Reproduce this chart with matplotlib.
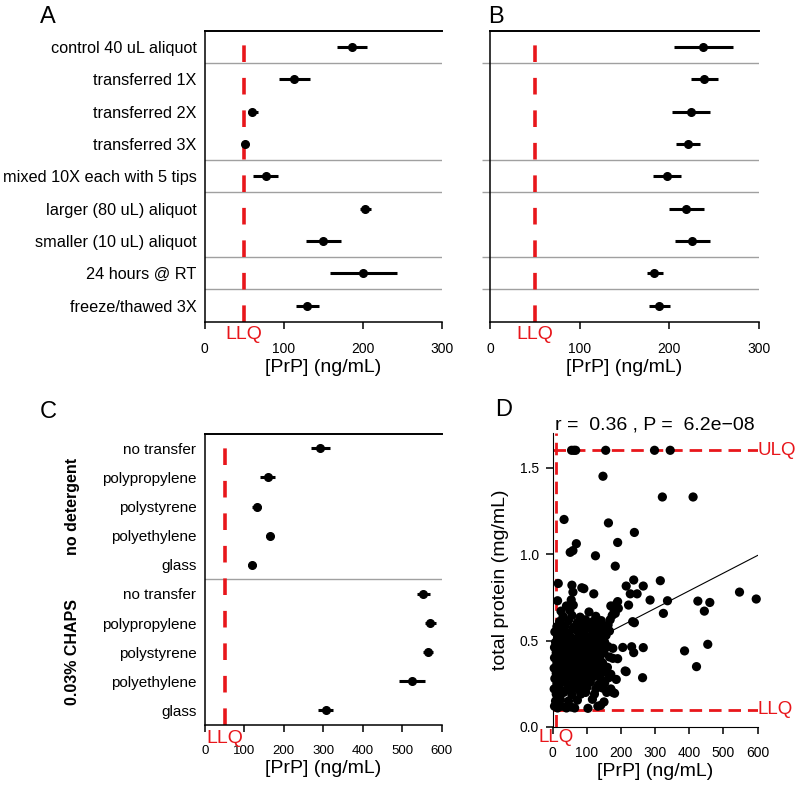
import numpy as np
import matplotlib.pyplot as plt

plt.rcParams['font.family'] = ['Liberation Sans', 'DejaVu Sans']

RED = '#E8161B'
LLQ_PRP = 50

# Panel A / B: sample handling
labels_ab = ['control 40 uL aliquot', 'transferred 1X', 'transferred 2X',
             'transferred 3X', 'mixed 10X each with 5 tips',
             'larger (80 uL) aliquot', 'smaller (10 uL) aliquot',
             '24 hours @ RT', 'freeze/thawed 3X']
a_mean = [186, 113, 60, 51, 77, 203, 150, 200, 130]
a_lo = [167, 94, 55, 51, 61, 197, 128, 158, 116]
a_hi = [206, 133, 67, 51, 93, 210, 172, 243, 145]
b_mean = [238, 239, 224, 221, 198, 219, 226, 183, 189]
b_lo = [205, 224, 203, 208, 182, 200, 206, 175, 178]
b_hi = [271, 255, 245, 234, 213, 239, 246, 193, 201]
ab_separators = [0.5, 3.5, 4.5, 6.5, 7.5]

# Panel C: tube material, with / without detergent
labels_c = ['no transfer', 'polypropylene', 'polystyrene', 'polyethylene', 'glass'] * 2
c_mean = [293, 159, 131, 164, 119, 552, 571, 566, 524, 306]
c_lo = [268, 140, 120, 156, 110, 537, 557, 553, 491, 287]
c_hi = [318, 177, 143, 171, 129, 570, 586, 579, 557, 325]
c_groups = ['no detergent', '0.03% CHAPS']

# Panel D: PrP vs total protein
prp_d = [55, 62, 67, 155, 298, 344, 147, 321, 411, 33, 163, 239, 190, 69, 59, 51,
         125, 183, 16, 56, 59, 85, 91, 120, 215, 237, 265, 247, 227, 315, 285, 336,
         324, 425, 460, 444, 547, 596, 222, 192, 183, 234, 239, 454, 386, 421, 265,
         205, 231, 237, 176, 263, 212,
         5, 14, 26, 40, 54, 64, 103, 132, 140,
         8, 22, 46, 72, 116, 150, 176,
         10, 32, 56, 82, 96, 122, 158, 181,
         4, 18, 42, 62, 76, 100, 126, 146, 170,
         12, 28, 48, 68, 88, 110, 134, 152,
         6, 22, 36, 56, 72, 92, 106, 118, 140, 164, 186,
         10, 30, 46, 62, 80, 98, 112, 128, 150, 170, 215,
         4, 20, 38, 52, 70, 86, 102, 120, 136, 160,
         12, 28, 44, 60, 78, 96, 110, 128, 146, 176,
         5, 15, 25, 35, 45, 55, 66, 76, 90, 106, 120, 138, 166, 190,
         10, 30, 50, 68, 86, 100, 118, 136, 150,
         5, 22, 40, 58, 76, 96, 112, 128, 146, 162,
         8, 26, 46, 66, 86, 106, 126, 140, 152,
         16, 36, 56, 78, 100, 120, 138, 156,
         6, 26, 48, 70, 92, 116, 136, 150, 166,
         12, 36, 60, 86, 106, 130, 148, 162,
         20, 46, 72, 96, 118, 142, 168,
         30, 56, 80, 126, 174,
         24, 50, 106, 180,
         40, 60, 170, 186,
         14, 54, 190]
tp_d = [1.6, 1.6, 1.6, 1.6, 1.6, 1.6, 1.45, 1.33, 1.33, 1.2, 1.18, 1.125, 1.067, 1.06, 1.02, 1.01,
        0.99, 0.93, 0.83, 0.82, 0.78, 0.805, 0.80, 0.77, 0.815, 0.85, 0.815, 0.77, 0.77, 0.846, 0.734, 0.73,
        0.657, 0.728, 0.72, 0.67, 0.78, 0.74, 0.705, 0.686, 0.657, 0.609, 0.603, 0.478, 0.44, 0.349, 0.459,
        0.46, 0.464, 0.43, 0.455, 0.285, 0.324,
        0.12, 0.11, 0.12, 0.11, 0.115, 0.11, 0.108, 0.12, 0.125,
        0.15, 0.16, 0.15, 0.155, 0.16, 0.145, 0.2,
        0.19, 0.2, 0.185, 0.19, 0.2, 0.19, 0.2, 0.195,
        0.22, 0.23, 0.22, 0.225, 0.215, 0.23, 0.22, 0.225, 0.22,
        0.25, 0.26, 0.245, 0.255, 0.25, 0.26, 0.245, 0.255,
        0.28, 0.285, 0.275, 0.29, 0.28, 0.285, 0.275, 0.29, 0.28, 0.285, 0.275,
        0.31, 0.315, 0.305, 0.32, 0.31, 0.305, 0.315, 0.31, 0.32, 0.305, 0.32,
        0.34, 0.345, 0.335, 0.35, 0.34, 0.345, 0.335, 0.35, 0.34, 0.345,
        0.37, 0.375, 0.365, 0.38, 0.37, 0.375, 0.365, 0.38, 0.37, 0.397,
        0.4, 0.395, 0.4, 0.405, 0.4, 0.395, 0.4, 0.405, 0.4, 0.395, 0.41, 0.4, 0.405, 0.395,
        0.43, 0.435, 0.425, 0.44, 0.43, 0.435, 0.425, 0.44, 0.43,
        0.46, 0.465, 0.455, 0.47, 0.46, 0.465, 0.455, 0.47, 0.46, 0.465,
        0.49, 0.495, 0.485, 0.5, 0.49, 0.495, 0.485, 0.5, 0.49,
        0.52, 0.525, 0.515, 0.53, 0.52, 0.525, 0.515, 0.53,
        0.55, 0.555, 0.545, 0.56, 0.55, 0.555, 0.545, 0.56, 0.555,
        0.58, 0.585, 0.575, 0.59, 0.58, 0.585, 0.575, 0.59,
        0.61, 0.615, 0.605, 0.62, 0.61, 0.615, 0.62,
        0.64, 0.645, 0.635, 0.64, 0.645,
        0.67, 0.675, 0.665, 0.67,
        0.7, 0.705, 0.7, 0.71,
        0.73, 0.735, 0.725]
fit_intercept, fit_slope = 0.38, 0.00102
d_llq_prp, d_llq_tp, d_ulq_tp = 10, 0.1, 1.6
d_title = 'r =  0.36 , P =  6.2e\u221208'


def dot_panel(ax, mean, lo, hi, xmax, seps, tick_fs):
    n = len(mean)
    y = np.arange(n)
    ax.hlines(y, lo, hi, color='black', lw=2.2, zorder=3)
    ax.plot(mean, y, 'o', color='black', ms=5.5, zorder=4)
    ax.set_ylim(n - 0.5, -0.5)
    ax.set_xlim(0, xmax)
    for s in seps:
        ax.axhline(s, color='#a0a0a0', lw=1, zorder=1)
    ax.axvline(LLQ_PRP, color=RED, lw=2.6, dashes=(4.6, 4.4), zorder=2)
    ax.spines['right'].set_visible(False)
    ax.spines['top'].set_linewidth(1.4)
    ax.spines['left'].set_linewidth(1.1)
    ax.spines['bottom'].set_linewidth(1.1)
    ax.tick_params(axis='x', direction='out', length=5, width=1.1, pad=9.5, labelsize=tick_fs)
    ax.text(LLQ_PRP, -0.045, 'LLQ', transform=ax.get_xaxis_transform(),
            ha='center', va='center', color=RED, fontsize=14)
    ax.set_xlabel('[PrP] (ng/mL)', fontsize=14, labelpad=2)


fig = plt.figure(figsize=(8, 7.85), dpi=100)

# A
axA = fig.add_axes([0.256, 0.590, 0.296, 0.371])
dot_panel(axA, a_mean, a_lo, a_hi, 300, ab_separators, 10)
axA.set_xticks([0, 100, 200, 300])
axA.set_yticks(range(len(labels_ab)))
axA.set_yticklabels(labels_ab, fontsize=11.7)
axA.tick_params(axis='y', length=0, pad=6)
fig.text(0.06, 0.978, 'A', fontsize=17, ha='center', va='center')

# B
axB = fig.add_axes([0.6125, 0.590, 0.336, 0.371])
dot_panel(axB, b_mean, b_lo, b_hi, 300, ab_separators, 10)
axB.set_xticks([0, 100, 200, 300])
axB.set_yticks(ab_separators)
axB.set_yticklabels([])
axB.tick_params(axis='y', length=6, color='#a0a0a0', width=1)
fig.text(0.62, 0.978, 'B', fontsize=17, ha='center', va='center')

# C
axC = fig.add_axes([0.256, 0.0764, 0.296, 0.371])
dot_panel(axC, c_mean, c_lo, c_hi, 600, [4.5], 9.5)
axC.set_xticks(range(0, 601, 100))
axC.set_yticks(range(len(labels_c)))
axC.set_yticklabels(labels_c, fontsize=11)
axC.tick_params(axis='y', length=0, pad=6)
for gi, g in enumerate(c_groups):
    axC.text(-0.56, 2 + 5 * gi, g, transform=axC.get_yaxis_transform(),
             rotation=90, ha='center', va='center', fontsize=11.5, fontweight='bold')
fig.text(0.06, 0.475, 'C', fontsize=17, ha='center', va='center')

# D
axD = fig.add_axes([0.691, 0.0739, 0.256, 0.3745])
axD.plot([0, 600], [fit_intercept, fit_intercept + fit_slope * 600], color='black', lw=0.8, zorder=2)
axD.scatter(prp_d, tp_d, s=44, color='black', edgecolors='none', zorder=3, clip_on=False)
axD.set_xlim(0, 600)
axD.set_ylim(0, 1.7)
axD.axvline(d_llq_prp, color=RED, lw=2, dashes=(4.5, 2.5), zorder=1)
axD.axhline(d_ulq_tp, color=RED, lw=2, dashes=(4.5, 2.5), zorder=1)
axD.axhline(d_llq_tp, color=RED, lw=2, dashes=(4.5, 2.5), zorder=1)
axD.text(601, d_ulq_tp, 'ULQ', color=RED, fontsize=13.5, ha='left', va='center')
axD.text(601, d_llq_tp, 'LLQ', color=RED, fontsize=13.5, ha='left', va='center')
axD.text(d_llq_prp, -0.035, 'LLQ', transform=axD.get_xaxis_transform(),
         ha='center', va='center', color=RED, fontsize=13.5)
axD.spines['right'].set_visible(False)
axD.spines['top'].set_visible(False)
axD.set_xticks(range(0, 601, 100))
axD.set_yticks([0, 0.5, 1.0, 1.5])
axD.set_yticklabels(['0.0', '0.5', '1.0', '1.5'])
axD.tick_params(direction='out', length=5, width=1.1, labelsize=10, pad=5)
axD.tick_params(axis='x', pad=8.5)
axD.set_xlabel('[PrP] (ng/mL)', fontsize=14, labelpad=2)
axD.set_ylabel('total protein (mg/mL)', fontsize=14, labelpad=8)
axD.set_title(d_title, fontsize=14, pad=2)
fig.text(0.63, 0.478, 'D', fontsize=17, ha='center', va='center')

fig.savefig('out.png', dpi=100)
